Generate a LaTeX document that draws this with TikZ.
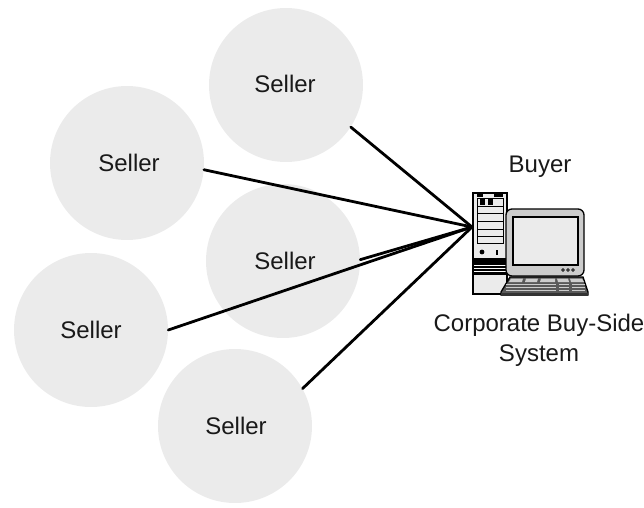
\documentclass[tikz,border=0pt]{standalone}
\usepackage{fontspec}
\setmainfont{Liberation Sans}
\definecolor{sellerfill}{gray}{0.92}
\definecolor{pcgray}{gray}{0.8}
\definecolor{ink}{gray}{0.1}
\tikzset{
  seller/.style={circle,fill=sellerfill,draw=none,minimum size=154*0.75pt,inner sep=0pt,text=ink},
  sellertext/.style={inner sep=0pt,text=ink,font=\fontsize{18pt}{22pt}\selectfont},
  label/.style={inner sep=0pt,align=center,text=ink,font=\fontsize{18pt}{22.5pt}\selectfont},
  link/.style={line width=2.1pt,line cap=round},
  pc/.style={draw=black,line width=1pt,fill=white},
  pcshade/.style={draw=black,line width=1pt,fill=pcgray},
  pcthin/.style={draw=black,line width=0.7pt},
}
\begin{document}
\begin{tikzpicture}[x=0.75pt,y=-0.75pt]
\useasboundingbox (0,0) rectangle (644,508);
\node[seller] (s1) at (286,85) {};
\node[seller] (s2) at (127,163) {};
\node[seller] (s3) at (283,261) {};
\node[seller] (s4) at (91,330) {};
\node[seller] (s5) at (235,426) {};
\node[sellertext] (t1) at (285,84) {Seller};
\node[sellertext] (t2) at (129,163) {Seller};
\node[sellertext] (t3) at (285,261) {Seller};
\node[sellertext] (t4) at (91,330) {Seller};
\node[sellertext] (t5) at (236,426) {Seller};
\coordinate (hub) at (472,227);
\draw[link] (s1.-33) -- (hub);
\draw[link] (s2.-5) -- (hub);
\draw[link] (s3.1) -- (hub);
\draw[link] (s4.east) -- (hub);
\draw[link] (s5.29) -- (hub);
\node[label] (buyer) at (540,167) {Buyer};
\node[label] (sys) at (539,340) {Corporate Buy-Side\\System};
% tower
\draw[pc,fill=sellerfill] (473,193) rectangle (507,294);
\draw[pcthin,fill=white!92!black] (477,198) rectangle (503,243);
\foreach \yy in {206,213,221,229,236}{\draw[pcthin] (477,\yy) -- (503,\yy);}
\fill[black] (477,194) rectangle (483,196.5);
\fill[black] (494,194) rectangle (503,196.5);
\fill[black] (480,199) rectangle (485,205);
\fill[black] (488,199) rectangle (493,205);
\fill[black] (482,252) circle (2.4);
\fill[black] (496,250) rectangle (497.5,255);
\fill[black] (474,258) rectangle (506,275);
\foreach \yy in {265,268,271}{\draw[white,line width=0.5pt] (474,\yy) -- (506,\yy);}
\draw[black,line width=1pt] (473,193) rectangle (507,294);
% monitor
\draw[pcshade,rounded corners=4.5] (506,209) rectangle (584,276);
\draw[pc,fill=sellerfill] (513,217) rectangle (578,265);
\foreach \xx in {563,568,573}{\draw[black,line width=0.6pt] (\xx,270) circle (1.4);}
% keyboard
\draw[draw=black,line width=1pt,fill=black!65] (510,277) -- (583,277) -- (588,292) -- (588,295) -- (501,295) -- (501,292) -- cycle;
\foreach \xa/\xb/\xc/\xd in {511/523/509/522,526/538/525/537,541/555/540/555,557/568/558/569,570/582/571/584}{
  \fill[pcgray] (\xa,278.5) -- (\xb,278.5) -- (\xd,282) -- (\xc,282) -- cycle;}
\foreach \yy in {284,287,290}{\draw[pcgray,line width=0.6pt] (506,\yy) -- (556,\yy);
  \draw[pcgray,line width=0.6pt] (559,\yy) -- (569,\yy);
  \draw[pcgray,line width=0.6pt] (572,\yy) -- (585,\yy);}
\fill[black!80] (501,292.5) rectangle (588,295.5);
\end{tikzpicture}
\end{document}
